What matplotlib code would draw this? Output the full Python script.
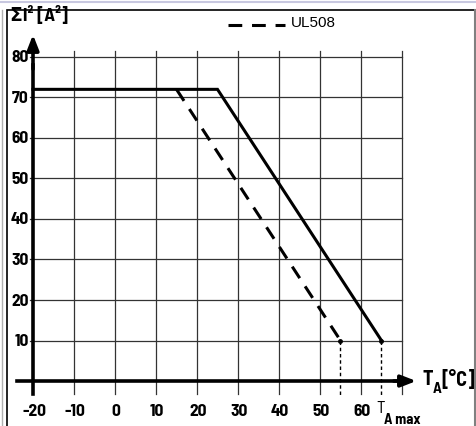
import matplotlib
matplotlib.use('Agg')
import matplotlib.pyplot as plt
from matplotlib.patches import Rectangle
from matplotlib.lines import Line2D

# data
x_ticks = [-20, -10, 0, 10, 20, 30, 40, 50, 60]
y_ticks = [10, 20, 30, 40, 50, 60, 70, 80]
grid_x = [-10, 0, 10, 20, 30, 40, 50, 60, 70]
solid_t = [-20, 25, 65]
solid_i = [72, 72, 10]
ul_t = [15, 55]
ul_i = [72, 10]
t_max_solid = 65
t_max_ul = 55

narrow = ['Barlow Semi Condensed', 'DejaVu Sans']

fig = plt.figure(figsize=(4.77, 4.27), dpi=100)
ax = fig.add_axes([0, 0, 1, 1])
ax.set_xlim(-28.05, 88.3)
ax.set_ylim(-11.1, 94.3)
ax.axis('off')

# frame
fig.add_artist(Line2D([0, 1], [1 - 3 / 427, 1 - 3 / 427], transform=fig.transFigure,
                      color='#c8c8e0', lw=1.5))
fig.add_artist(Rectangle((7 / 477, -0.1), (475 - 7) / 477, 1.1 - 11 / 427,
                         transform=fig.transFigure, fill=False, ec='black', lw=1.2))
fig.add_artist(Line2D([2 / 477, 2 / 477], [0, 1 - 11 / 427], transform=fig.transFigure,
                      color='#b0b0b0', lw=1))
fig.add_artist(Line2D([475 / 477, 475 / 477], [0, 1 - 11 / 427], transform=fig.transFigure,
                      color='#808080', lw=1.5))

# grid
for gx in grid_x:
    ax.plot([gx, gx], [-3.2, 81.5], color='#333333', lw=0.9, zorder=1)
for gy in y_ticks:
    ax.plot([-20.7, 70], [gy, gy], color='#333333', lw=0.9, zorder=1)

# axes with arrows
ax.plot([-20, -20], [-3.2, 78], color='black', lw=2.6, zorder=3)
ax.plot([-24.0, 70], [0, 0], color='black', lw=2.6, zorder=3)
ax.annotate('', xy=(-20, 85.5), xytext=(-20, 77), zorder=4,
            arrowprops=dict(arrowstyle='-|>,head_length=0.9,head_width=0.35',
                            color='black', lw=2.6, shrinkA=0, shrinkB=0))
ax.annotate('', xy=(73.5, 0), xytext=(68, 0), zorder=4,
            arrowprops=dict(arrowstyle='-|>,head_length=0.9,head_width=0.35',
                            color='black', lw=2.6, shrinkA=0, shrinkB=0))

# curves
ax.plot(solid_t, solid_i, color='black', lw=2.2, solid_joinstyle='miter', zorder=5)
ax.plot(ul_t, ul_i, color='black', lw=2.2, dashes=(4.5, 3.2), zorder=5)
ax.plot([t_max_ul, t_max_ul], [10, -3.8], color='black', lw=1.0, dashes=(2.5, 2), zorder=5)
ax.plot([t_max_solid, t_max_solid], [10, -3.8], color='black', lw=1.0, dashes=(2.5, 2), zorder=5)
ax.plot([t_max_ul, t_max_solid], [10, 10], 'o', color='black', ms=2.5, zorder=6)

# tick labels
for t in x_ticks:
    ax.text(t + 0.3, -5.3, str(t), ha='center', va='top', fontsize=12.5,
            fontweight='bold', family=narrow)
for v in y_ticks:
    ax.text(-21.0, v, str(v), ha='right', va='center', fontsize=12.5,
            fontweight='bold', family=narrow)

ax.text(-25.7, 92.8, 'ΣI² [A²]', ha='left', va='top', fontsize=13.5,
        fontweight='bold', family=narrow)
ax.text(75.0, 0.6, 'T', ha='left', va='center', fontsize=14.5,
        fontweight='bold', family=narrow)
ax.text(77.4, -1.6, 'A', ha='left', va='center', fontsize=11,
        fontweight='bold', family=narrow)
ax.text(79.6, 0.6, '[°C]', ha='left', va='center', fontsize=14.5,
        fontweight='bold', family=narrow)
ax.text(63.8, -4.6, 'T', ha='left', va='top', fontsize=12.5, family=narrow)
ax.text(65.6, -7.6, 'A max', ha='left', va='top', fontsize=10.5,
        fontweight='bold', family=narrow)

# legend
ax.plot([27.5, 41.5], [88, 88], color='black', lw=2.2, dashes=(4.5, 3.2))
ax.text(43, 88.5, 'UL508', ha='left', va='center', fontsize=11, family='Liberation Sans')

fig.savefig('out.png', dpi=100)
